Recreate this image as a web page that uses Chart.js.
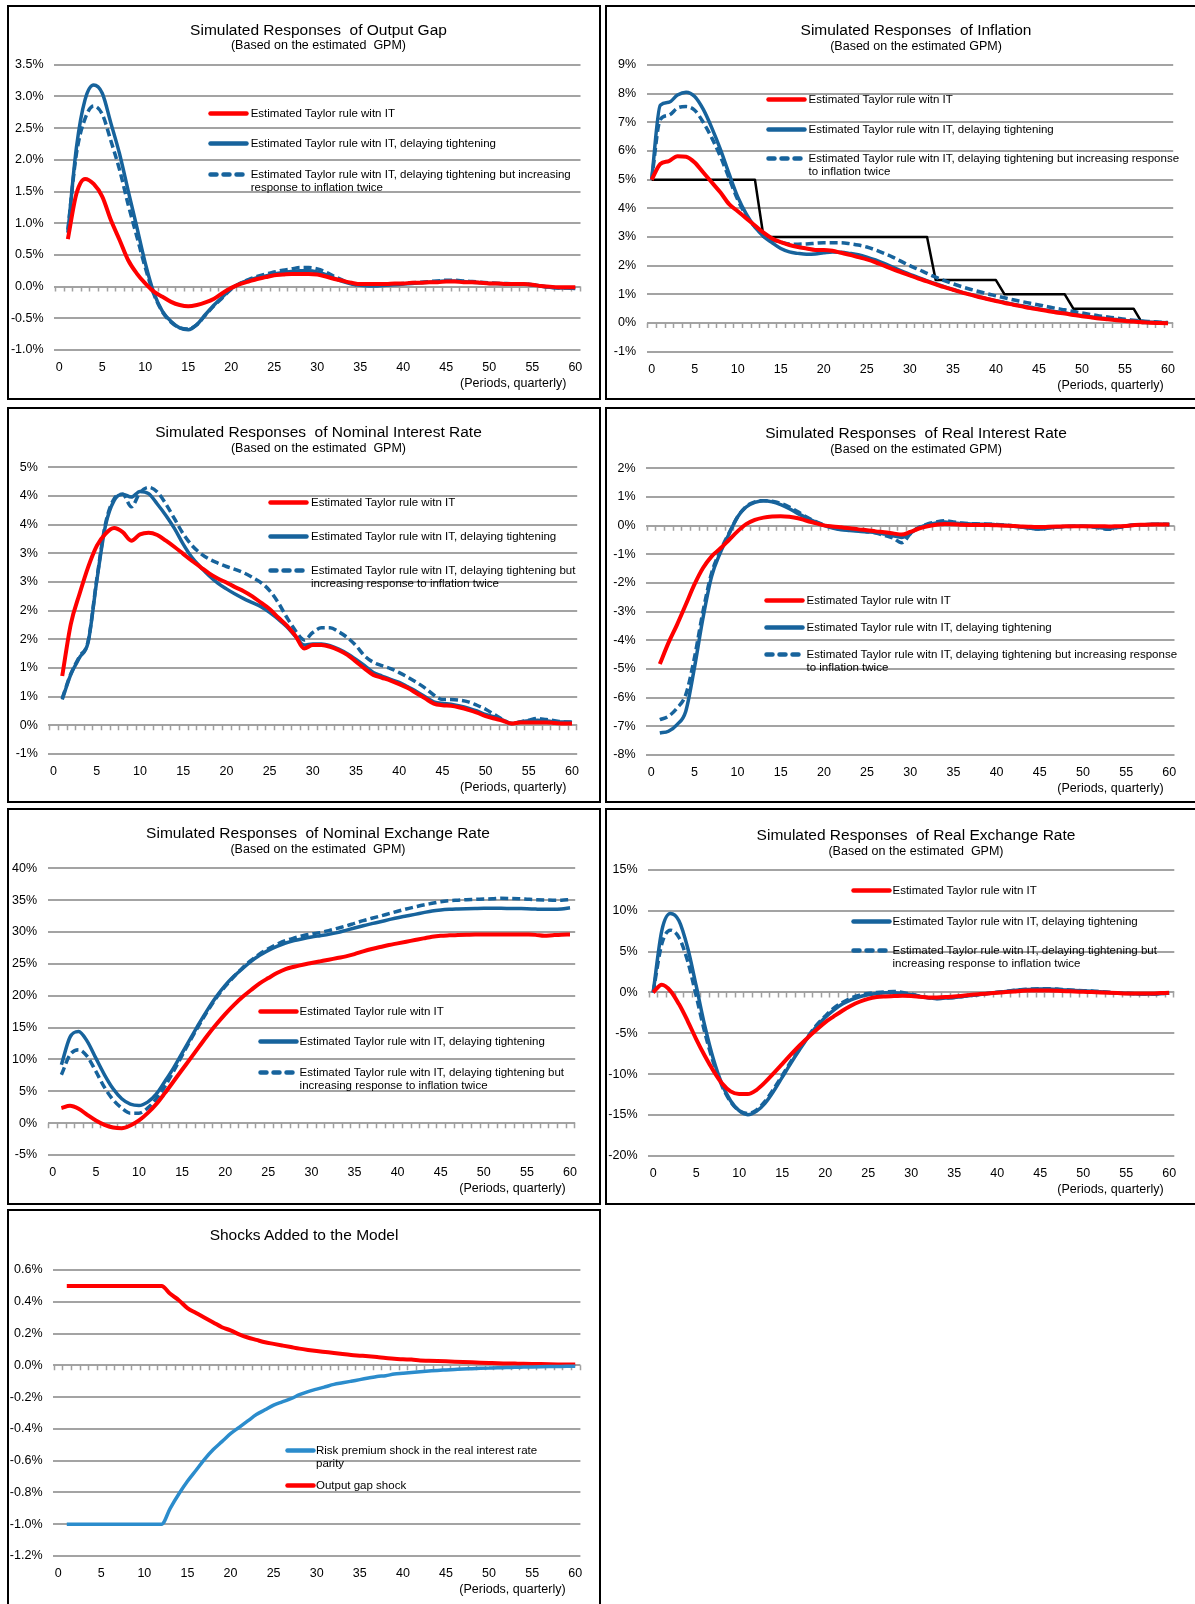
<!DOCTYPE html>
<html>
<head>
<meta charset="utf-8">
<script src="https://cdn.jsdelivr.net/npm/chart.js@4.4.1/dist/chart.umd.min.js"></script>
<style>
html, body { margin: 0; padding: 0; background: #fff; }
body { width: 1195px; height: 1604px; position: relative; overflow: hidden;
       font-family: "Liberation Sans", Arial, sans-serif; color: #000; }
.panel { position: absolute; border: 2px solid #000; box-sizing: border-box; }
.panel canvas { position: absolute; left: 0; top: 0; }
.ttl { position: absolute; transform: translate(-50%, -50%); white-space: pre; font-size: 15.5px; }
.sub { position: absolute; transform: translate(-50%, -50%); white-space: pre; font-size: 12.5px; }
.per { position: absolute; transform: translate(-100%, -50%); white-space: nowrap; font-size: 12.5px; }
.leg { position: absolute; font-size: 11.5px; line-height: 13px; white-space: nowrap; }
.leg svg { position: absolute; left: 0; top: 0; }
</style>
</head>
<body>
<script>
// periods 0..60 (quarters); series that begin in period 1 carry null at period 0
const periods = Array.from({ length: 61 }, (_, i) => i);
const periodTicks = [0, 5, 10, 15, 20, 25, 30, 35, 40, 45, 50, 55, 60];

// output gap, %
const ogTaylor = [null, 0.75,1.47,1.70,1.62,1.42,1.05,0.74,0.42,0.21,0.05, -0.08,-0.16,-0.24,-0.29,-0.31,-0.29,-0.25,-0.19,-0.10,-0.02, 0.04,0.08,0.12,0.15,0.18,0.19,0.20,0.20,0.20,0.19, 0.16,0.12,0.09,0.06,0.04,0.04,0.04,0.04,0.05,0.05, 0.06,0.06,0.07,0.07,0.08,0.08,0.07,0.07,0.06,0.05, 0.05,0.04,0.04,0.04,0.03,0.01,0.00,-0.01,-0.01,-0.01];
const ogDelay = [null, 0.85,2.20,2.95,3.18,3.05,2.58,2.10,1.52,0.95,0.37, -0.10,-0.39,-0.55,-0.65,-0.68,-0.60,-0.44,-0.29,-0.16,-0.03, 0.05,0.10,0.14,0.17,0.20,0.22,0.24,0.25,0.25,0.23, 0.19,0.13,0.08,0.04,0.02,0.01,0.01,0.02,0.03,0.04, 0.05,0.06,0.07,0.08,0.09,0.09,0.08,0.07,0.06,0.05, 0.05,0.04,0.04,0.04,0.03,0.01,-0.01,-0.02,-0.02,-0.03];
const ogDelayTwice = [null, 0.90,2.10,2.65,2.85,2.72,2.30,1.85,1.30,0.80,0.30, -0.12,-0.40,-0.56,-0.65,-0.67,-0.60,-0.45,-0.30,-0.17,-0.04, 0.05,0.11,0.16,0.20,0.23,0.26,0.28,0.30,0.30,0.28, 0.23,0.16,0.10,0.05,0.02,0.02,0.02,0.03,0.04,0.05, 0.06,0.07,0.08,0.09,0.10,0.10,0.09,0.08,0.07,0.06, 0.05,0.05,0.04,0.04,0.03,0.01,-0.01,-0.02,-0.02,-0.03];

// inflation, %
const infTaylor = [5.00, 5.55,5.65,5.82,5.80,5.60,5.25,4.90,4.55,4.15,3.90, 3.65,3.40,3.15,2.95,2.82,2.72,2.65,2.60,2.55,2.55, 2.52,2.45,2.38,2.30,2.22,2.12,2.00,1.88,1.77,1.66, 1.55,1.45,1.35,1.25,1.16,1.07,0.99,0.91,0.84,0.77, 0.70,0.64,0.58,0.52,0.47,0.42,0.37,0.33,0.28,0.24, 0.20,0.16,0.13,0.10,0.07,0.05,0.03,0.01,0.00,-0.01];
const infDelay = [5.00, 7.60,7.70,7.95,8.05,7.90,7.45,6.80,6.05,5.20,4.40, 3.80,3.35,3.02,2.80,2.60,2.48,2.43,2.40,2.41,2.45, 2.48,2.47,2.43,2.38,2.30,2.20,2.08,1.95,1.82,1.70, 1.58,1.47,1.37,1.27,1.17,1.08,1.00,0.92,0.85,0.78, 0.72,0.66,0.60,0.55,0.49,0.44,0.39,0.35,0.30,0.26, 0.22,0.18,0.15,0.12,0.09,0.07,0.05,0.03,0.02,0.01];
const infDelayTwice = [5.00, 7.10,7.25,7.50,7.55,7.42,7.00,6.45,5.80,5.05,4.30, 3.75,3.35,3.08,2.92,2.82,2.76,2.75,2.76,2.78,2.80, 2.80,2.80,2.77,2.72,2.65,2.55,2.43,2.30,2.15,2.00, 1.87,1.73,1.60,1.48,1.37,1.27,1.18,1.10,1.02,0.95, 0.88,0.81,0.75,0.69,0.63,0.57,0.51,0.46,0.40,0.35, 0.30,0.25,0.21,0.17,0.13,0.10,0.07,0.05,0.03,0.02];
const infTarget = [5,5,5,5,5,5,5,5,5,5,5, 5,5,3,3,3,3,3,3,3,3, 3,3,3,3,3,3,3,3,3,3, 3,3,1.5,1.5,1.5,1.5,1.5,1.5,1.5,1.5, 1,1,1,1,1,1,1,1,0.5,0.5, 0.5,0.5,0.5,0.5,0.5,0.5,0,0,0,0];

// nominal interest rate, %
const niTaylor = [null, 0.86,1.77,2.29,2.76,3.13,3.34,3.44,3.37,3.22,3.33, 3.36,3.32,3.22,3.11,2.99,2.87,2.76,2.65,2.56,2.49, 2.41,2.34,2.25,2.14,2.03,1.88,1.74,1.56,1.34,1.40, 1.40,1.37,1.31,1.23,1.11,0.99,0.88,0.83,0.78,0.72, 0.65,0.56,0.47,0.38,0.35,0.34,0.31,0.27,0.22,0.16, 0.12,0.08,0.03,0.05,0.05,0.05,0.05,0.04,0.03,0.03];
const niDelay = [null, 0.45,0.89,1.18,1.45,2.52,3.48,3.92,4.03,3.98,4.08, 4.04,3.86,3.66,3.43,3.16,2.93,2.76,2.61,2.48,2.38, 2.29,2.21,2.14,2.07,1.97,1.85,1.72,1.55,1.40,1.42, 1.42,1.39,1.33,1.25,1.15,1.04,0.92,0.86,0.80,0.75, 0.67,0.59,0.50,0.41,0.38,0.37,0.34,0.30,0.25,0.19, 0.15,0.09,0.03,0.06,0.08,0.09,0.08,0.06,0.06,0.05];
const niDelayTwice = [null, 0.47,0.90,1.20,1.47,2.55,3.51,3.95,4.03,3.81,4.06, 4.15,4.07,3.86,3.60,3.34,3.14,3.00,2.90,2.83,2.77, 2.72,2.66,2.58,2.49,2.35,2.14,1.88,1.65,1.49,1.62, 1.70,1.70,1.63,1.53,1.39,1.21,1.10,1.04,0.99,0.92, 0.84,0.75,0.65,0.53,0.45,0.45,0.44,0.41,0.35,0.28, 0.19,0.10,0.03,0.06,0.09,0.12,0.10,0.08,0.06,0.06];

// real interest rate, %
const riTaylor = [null, -4.83,-4.09,-3.45,-2.76,-2.06,-1.48,-1.07,-0.80,-0.50,-0.20, 0.05,0.20,0.28,0.32,0.33,0.31,0.26,0.17,0.09,0.01, -0.03,-0.06,-0.09,-0.13,-0.16,-0.20,-0.23,-0.27,-0.31,-0.22, -0.10,-0.02,0.03,0.06,0.05,0.03,0.02,0.02,0.02,0.01, 0.00,-0.01,-0.03,-0.04,-0.05,-0.04,-0.03,-0.02,-0.02,-0.02, -0.02,-0.02,-0.03,-0.02,-0.01,0.02,0.03,0.04,0.04,0.04];
const riDelay = [null, -7.23,-7.17,-6.94,-6.48,-4.97,-3.22,-1.77,-0.95,-0.30,0.30, 0.65,0.81,0.87,0.83,0.73,0.59,0.42,0.27,0.13,0.01, -0.08,-0.14,-0.17,-0.20,-0.22,-0.24,-0.29,-0.35,-0.41,-0.26, -0.08,0.03,0.09,0.13,0.09,0.07,0.06,0.05,0.05,0.03, 0.01,-0.02,-0.06,-0.09,-0.12,-0.08,-0.05,-0.03,-0.02,-0.02, -0.03,-0.07,-0.10,-0.06,-0.01,0.02,0.03,0.05,0.05,0.03];
const riDelayTwice = [null, -6.77,-6.65,-6.36,-5.90,-4.62,-2.99,-1.65,-0.88,-0.27,0.30, 0.67,0.83,0.87,0.85,0.78,0.65,0.48,0.30,0.15,0.03, -0.06,-0.12,-0.15,-0.17,-0.21,-0.26,-0.34,-0.43,-0.60,-0.29, -0.06,0.06,0.13,0.17,0.13,0.09,0.07,0.06,0.05,0.04, 0.02,-0.01,-0.05,-0.09,-0.12,-0.08,-0.05,-0.03,-0.02,-0.02, -0.04,-0.09,-0.13,-0.07,-0.02,0.02,0.03,0.04,0.05,0.05];

// nominal exchange rate, %
const neTaylor = [null, 2.36,2.72,2.25,1.31,0.42,-0.26,-0.68,-0.79,-0.37,0.42, 1.57,2.98,4.71,6.54,8.38,10.20,12.04,13.87,15.55,17.12, 18.53,19.79,20.89,21.94,22.77,23.56,24.19,24.55,24.87,25.13, 25.39,25.65,25.92,26.18,26.54,26.96,27.33,27.64,27.96,28.22, 28.48,28.74,29.00,29.27,29.42,29.48,29.52,29.56,29.60,29.62, 29.62,29.62,29.62,29.62,29.60,29.55,29.40,29.50,29.58,29.60];
const neDelay = [null, 9.16,13.50,14.40,12.83,10.20,7.59,5.39,3.82,2.98,2.77, 3.30,4.55,6.54,8.64,11.00,13.35,15.70,17.90,19.90,21.62, 23.04,24.24,25.39,26.34,27.12,27.75,28.27,28.64,28.95,29.21, 29.42,29.63,29.90,30.26,30.63,30.99,31.31,31.62,31.94,32.25, 32.51,32.77,33.04,33.30,33.46,33.56,33.62,33.67,33.70,33.72, 33.72,33.72,33.70,33.68,33.66,33.60,33.56,33.56,33.62,33.80];
const neDelayTwice = [null, 7.59,10.73,11.52,10.47,8.12,5.60,3.66,2.36,1.57,1.57, 2.36,3.82,5.76,8.12,10.63,13.09,15.45,17.70,19.74,21.47, 22.98,24.35,25.55,26.54,27.38,28.06,28.64,29.06,29.42,29.69, 29.90,30.21,30.58,30.94,31.36,31.78,32.15,32.51,32.88,33.25, 33.61,33.93,34.24,34.50,34.76,34.92,35.00,35.08,35.12,35.18, 35.22,35.29,35.27,35.22,35.15,35.08,35.03,35.00,35.00,35.08];

// real exchange rate, %
const reTaylor = [0, 0.94,0.20,-1.43,-3.47,-5.71,-7.76,-9.59,-11.14,-12.12,-12.45, -12.45,-11.96,-11.02,-9.92,-8.78,-7.63,-6.53,-5.51,-4.57,-3.67, -2.94,-2.24,-1.63,-1.14,-0.78,-0.57,-0.49,-0.45,-0.41,-0.45, -0.53,-0.61,-0.61,-0.57,-0.49,-0.41,-0.29,-0.20,-0.12,-0.04, 0.04,0.12,0.20,0.24,0.24,0.24,0.20,0.16,0.12,0.08, 0.04,0.00,-0.04,-0.08,-0.12,-0.12,-0.12,-0.12,-0.08,-0.04];
const reDelay = [0, 7.55,9.67,8.78,5.51,0.82,-4.08,-8.16,-11.22,-13.27,-14.49, -14.98,-14.57,-13.59,-12.12,-10.41,-8.69,-7.06,-5.51,-4.16,-3.06, -2.16,-1.43,-0.90,-0.53,-0.29,-0.12,-0.04,-0.04,-0.12,-0.29, -0.49,-0.65,-0.78,-0.69,-0.61,-0.49,-0.37,-0.24,-0.12,0.00, 0.12,0.24,0.33,0.37,0.41,0.41,0.37,0.29,0.24,0.20, 0.16,0.08,0.00,-0.08,-0.12,-0.16,-0.20,-0.20,-0.16,-0.08];
const reDelayTwice = [0, 5.92,7.63,6.73,3.88,-0.41,-4.90,-8.57,-11.43,-13.39,-14.49, -14.82,-14.41,-13.35,-11.84,-10.20,-8.49,-6.86,-5.39,-4.00,-2.90, -1.92,-1.22,-0.69,-0.33,-0.12,0.00,0.08,0.12,0.00,-0.20, -0.45,-0.65,-0.73,-0.69,-0.61,-0.49,-0.37,-0.24,-0.10,0.02, 0.14,0.26,0.36,0.41,0.45,0.45,0.41,0.33,0.27,0.22, 0.18,0.10,0.02,-0.06,-0.11,-0.15,-0.19,-0.20,-0.16,-0.08];

// shocks, %
const shockRiskPremium = [null, -1,-1,-1,-1,-1,-1,-1,-1,-1,-1, -1,-1,-0.90,-0.81,-0.73,-0.66,-0.59,-0.53,-0.48,-0.43, -0.39,-0.35,-0.31,-0.28,-0.25,-0.23,-0.21,-0.185,-0.165,-0.15, -0.135,-0.12,-0.11,-0.10,-0.09,-0.08,-0.07,-0.065,-0.055,-0.05, -0.045,-0.04,-0.036,-0.032,-0.029,-0.026,-0.023,-0.021,-0.019,-0.017, -0.015,-0.014,-0.012,-0.011,-0.01,-0.009,-0.008,-0.007,-0.006,-0.006];
const shockOutputGap = [null, 0.5,0.5,0.5,0.5,0.5,0.5,0.5,0.5,0.5,0.5, 0.5,0.5,0.45,0.41,0.36,0.33,0.30,0.27,0.24,0.22, 0.195,0.175,0.16,0.145,0.135,0.125,0.115,0.105,0.097,0.09, 0.084,0.078,0.071,0.065,0.061,0.057,0.052,0.046,0.042,0.038, 0.036,0.031,0.029,0.027,0.025,0.023,0.021,0.019,0.017,0.015, 0.013,0.012,0.011,0.01,0.009,0.008,0.007,0.006,0.005,0.005];

const lblTaylor = 'Estimated Taylor rule witn IT';
const lblDelay = 'Estimated Taylor rule witn IT, delaying tightening';
const lblTwice = 'Estimated Taylor rule witn IT, delaying tightening but increasing response to inflation twice';
const lblRisk = 'Risk premium shock in the real interest rate parity';
const lblGap = 'Output gap shock';
const subTitle = '(Based on the estimated  GPM)';

const RED = '#ff0000', BLUE = '#17639c', LIGHTBLUE = '#2b8ccc';
const red = { color: RED, width: 4 };
const blue = { color: BLUE, width: 3.5 };
const blueDash = { color: BLUE, width: 3.5, dash: [8, 4] };

const pct1 = v => (Math.abs(v) < 1e-9 ? 0 : v).toFixed(1) + '%';
const pct0 = v => Math.round(v) + '%';
const pctAway = v => (Math.sign(v) * Math.round(Math.abs(v) + 1e-9)) + '%';

const panels = [
  { box: [7, 5, 594, 395], area: { l: 54.1, r: 580.5, t: 64.8, b: 350 },
    y: { min: -1, max: 3.5, step: 0.5, fmt: pct1 }, title: 'Simulated Responses  of Output Gap', sub: subTitle, cx: 318.5, per: 566.4,
    legend: { x: 207.7, tx: 43, ys: [113.5, 143, 174.5], brk: 'increasing' },
    series: [{ data: ogTaylor, label: lblTaylor, ...red }, { data: ogDelay, label: lblDelay, ...blue }, { data: ogDelayTwice, label: lblTwice, ...blueDash }] },
  { box: [605, 5, 600, 395], area: { l: 646.5, r: 1173.2, t: 65, b: 351.7 },
    y: { min: -1, max: 9, step: 1, fmt: pct0 }, title: 'Simulated Responses  of Inflation', sub: '(Based on the estimated GPM)', cx: 916, per: 1163.6,
    legend: { x: 765.5, tx: 43, ys: [99.5, 129.3, 158], brk: 'response' },
    series: [{ data: infTaylor, label: lblTaylor, ...red }, { data: infDelay, label: lblDelay, ...blue }, { data: infDelayTwice, label: lblTwice, ...blueDash },
             { data: infTarget, color: '#000', width: 2.5, step: true }] },
  { box: [7, 407, 594, 396], area: { l: 48.4, r: 577.2, t: 467.3, b: 754 },
    y: { min: -0.5, max: 4.5, step: 0.5, fmt: pctAway }, title: 'Simulated Responses  of Nominal Interest Rate', sub: subTitle, cx: 318.5, per: 566.4,
    legend: { x: 268, tx: 43, ys: [502.7, 536.7, 570.7], brk: 'but' },
    series: [{ data: niTaylor, label: lblTaylor, ...red }, { data: niDelay, label: lblDelay, ...blue }, { data: niDelayTwice, label: lblTwice, ...blueDash }] },
  { box: [605, 407, 600, 396], area: { l: 646, r: 1174.5, t: 468.3, b: 755 },
    y: { min: -8, max: 2, step: 1, fmt: pct0 }, title: 'Simulated Responses  of Real Interest Rate', sub: '(Based on the estimated GPM)', cx: 916, per: 1163.6,
    legend: { x: 763.5, tx: 43, ys: [600.7, 627.7, 654.3], brk: 'response' },
    series: [{ data: riTaylor, label: lblTaylor, ...red }, { data: riDelay, label: lblDelay, ...blue }, { data: riDelayTwice, label: lblTwice, ...blueDash }] },
  { box: [7, 808, 594, 397], area: { l: 47.6, r: 575.2, t: 868.3, b: 1155 },
    y: { min: -5, max: 40, step: 5, fmt: pct0 }, title: 'Simulated Responses  of Nominal Exchange Rate', sub: subTitle, cx: 318, per: 565.6,
    legend: { x: 257.6, tx: 42, ys: [1011.7, 1041.7, 1072.7], brk: 'but' },
    series: [{ data: neTaylor, label: lblTaylor, ...red }, { data: neDelay, label: lblDelay, ...blue }, { data: neDelayTwice, label: lblTwice, ...blueDash }] },
  { box: [605, 808, 600, 397], area: { l: 648, r: 1174.3, t: 870, b: 1155.7 },
    y: { min: -20, max: 15, step: 5, fmt: pct0 }, title: 'Simulated Responses  of Real Exchange Rate', sub: subTitle, cx: 916, per: 1163.6,
    legend: { x: 850.5, tx: 42, ys: [890.7, 921, 950.7], brk: 'but' },
    series: [{ data: reTaylor, label: lblTaylor, ...red }, { data: reDelay, label: lblDelay, ...blue }, { data: reDelayTwice, label: lblTwice, ...blueDash }] },
  { box: [7, 1209, 594, 400], area: { l: 53, r: 580.4, t: 1270, b: 1556 },
    y: { min: -1.2, max: 0.6, step: 0.2, fmt: pct1 }, title: 'Shocks Added to the Model', sub: null, cx: 304, per: 565.6,
    legend: { x: 285, tx: 31, sample: 30, ys: [1450.7, 1485.7], brk: 'rate' },
    series: [{ data: shockRiskPremium, label: lblRisk, color: LIGHTBLUE, width: 3.5 }, { data: shockOutputGap, label: lblGap, color: RED, width: 4 }] }
];

// small tick marks hanging under the zero line, one between each pair of periods
const zeroTicks = {
  id: 'zeroTicks',
  beforeDatasetsDraw(chart) {
    const { ctx, scales: { x, y } } = chart;
    const y0 = y.getPixelForValue(0);
    ctx.save();
    ctx.strokeStyle = '#a0a0a0';
    ctx.lineWidth = 1.5;
    ctx.beginPath();
    for (let k = -0.5; k <= 60.5; k += 1) {
      const px = Math.round(x.getPixelForValue(k)) + 0.5;
      ctx.moveTo(px, y0);
      ctx.lineTo(px, y0 + 5);
    }
    ctx.stroke();
    ctx.restore();
  }
};

const tickFont = { family: '"Liberation Sans", Arial, sans-serif', size: 12.5 };

function addText(cls, text, x, y) {
  const d = document.createElement('div');
  d.className = cls;
  d.textContent = text;
  d.style.left = x + 'px';
  d.style.top = y + 'px';
  document.body.appendChild(d);
}

function addLegend(p) {
  const lg = p.legend;
  const sw = lg.sample || 40;
  p.series.filter(s => s.label).forEach((s, i) => {
    const d = document.createElement('div');
    d.className = 'leg';
    d.style.left = lg.x + 'px';
    d.style.top = (lg.ys[i] - 6.5) + 'px';
    d.style.paddingLeft = lg.tx + 'px';
    const dash = s.dash ? ' stroke-dasharray="6 7"' : '';
    d.innerHTML = '<svg width="' + (sw + 2) + '" height="13"><line x1="2.5" y1="6.5" x2="' + (sw - 1.5) + '" y2="6.5" stroke="' + s.color +
      '" stroke-width="4.5" stroke-linecap="round"' + dash + '/></svg>';
    const words = s.label.split(' ');
    const cut = words.indexOf(lg.brk);
    const lines = cut >= 0 && cut < words.length - 1 ? [words.slice(0, cut + 1).join(' '), words.slice(cut + 1).join(' ')] : [s.label];
    lines.forEach(t => {
      const ln = document.createElement('div');
      ln.textContent = t;
      d.appendChild(ln);
    });
    document.body.appendChild(d);
  });
}

function drawPanel(p) {
  const [bx, by, bw, bh] = p.box;
  const box = document.createElement('div');
  box.className = 'panel';
  box.style.left = bx + 'px';
  box.style.top = by + 'px';
  box.style.width = bw + 'px';
  box.style.height = bh + 'px';
  const cw = bw - 4, ch = bh - 4, cx = bx + 2, cy = by + 2;
  const cv = document.createElement('canvas');
  cv.width = cw; cv.height = ch;
  cv.style.width = cw + 'px'; cv.style.height = ch + 'px';
  box.appendChild(cv);
  document.body.appendChild(box);

  const a = p.area;
  const yw = a.l - cx, xh = cy + ch - a.b;

  new Chart(cv, {
    type: 'line',
    data: {
      labels: periods,
      datasets: p.series.map(s => ({
        label: s.label || '',
        data: s.data,
        borderColor: s.color,
        borderWidth: s.width,
        borderDash: s.dash || [],
        pointRadius: 0,
        fill: false,
        cubicInterpolationMode: s.step ? 'default' : 'monotone',
        tension: 0,
        borderJoinStyle: 'round'
      }))
    },
    options: {
      responsive: false,
      animation: false,
      devicePixelRatio: 1,
      layout: { padding: { top: a.t - cy, right: cx + cw - a.r, left: 0, bottom: 0 } },
      plugins: { legend: { display: false }, tooltip: { enabled: false } },
      scales: {
        x: {
          type: 'linear', min: -0.6, max: 60.6,
          grid: { display: false }, border: { display: false },
          afterBuildTicks: s => { s.ticks = periodTicks.map(v => ({ value: v })); },
          afterFit: s => { s.height = xh; },
          ticks: { autoSkip: false, maxRotation: 0, padding: 2.5, color: '#000', font: tickFont }
        },
        y: {
          min: p.y.min, max: p.y.max,
          afterFit: s => { s.width = yw; },
          grid: { color: '#a3a3a3', lineWidth: 2, drawTicks: false },
          border: { display: false },
          ticks: { stepSize: p.y.step, padding: 10.5, color: '#000', font: tickFont, callback: v => p.y.fmt(v) }
        }
      }
    },
    plugins: [zeroTicks]
  });

  addText('ttl', p.title, p.cx, a.t - 35);
  if (p.sub) addText('sub', p.sub, p.cx, a.t - 19.5);
  addText('per', '(Periods, quarterly)', p.per, a.b + 33);
  addLegend(p);
}

panels.forEach(drawPanel);
</script>
</body>
</html>
